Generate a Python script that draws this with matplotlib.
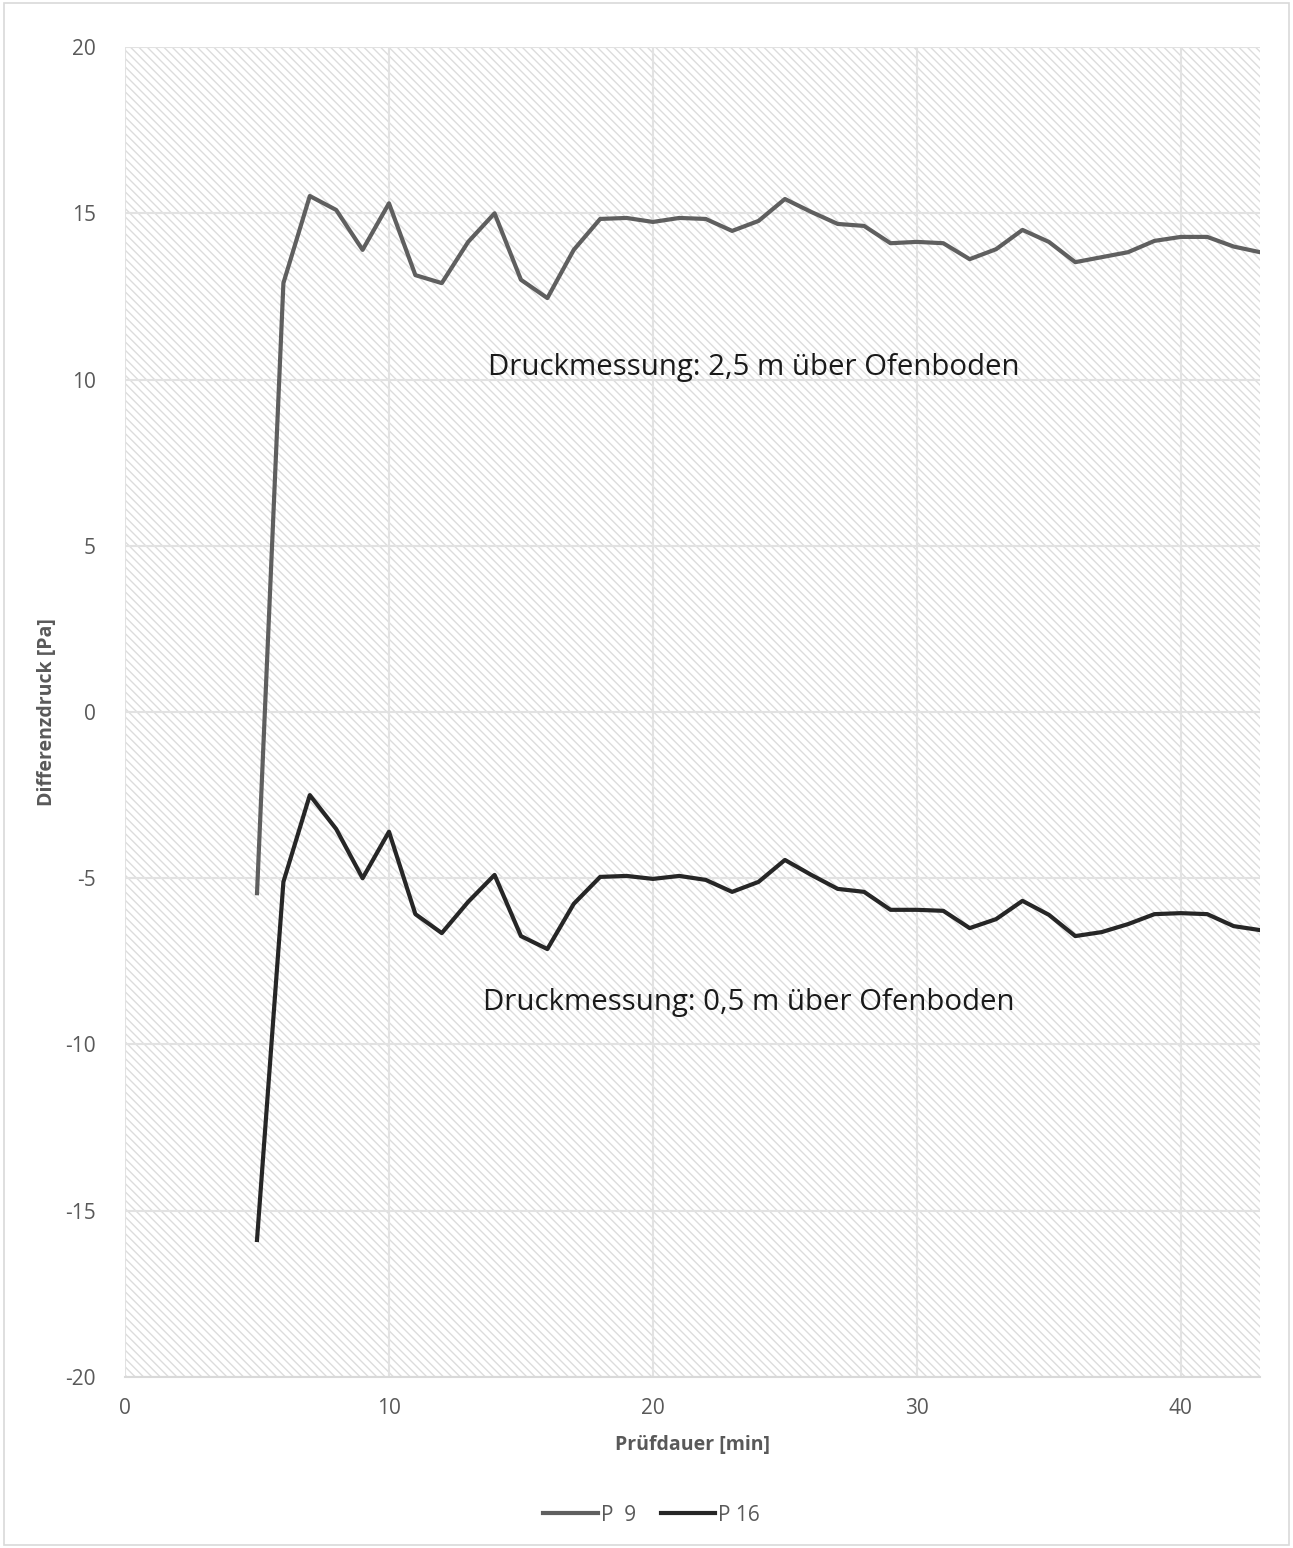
import matplotlib
matplotlib.use("Agg")
import matplotlib.pyplot as plt
from matplotlib.patches import Rectangle

plt.rcParams['font.family'] = ['Open Sans', 'DejaVu Sans']
plt.rcParams['hatch.linewidth'] = 1.0
plt.rcParams['axes.unicode_minus'] = False

minutes = list(range(5, 44))
p9 = [-5.45, 12.9, 15.52, 15.1, 13.9, 15.3, 13.14, 12.9, 14.14, 15.0,
      13.0, 12.45, 13.9, 14.83, 14.86, 14.74, 14.86, 14.83, 14.47, 14.77,
      15.43, 15.04, 14.68, 14.62, 14.1, 14.14, 14.1, 13.62, 13.92, 14.5,
      14.14, 13.53, 13.68, 13.83, 14.17, 14.29, 14.29, 14.0, 13.83]
p16 = [-15.88, -5.11, -2.5, -3.52, -5.0, -3.6, -6.08, -6.65, -5.71, -4.9,
       -6.74, -7.13, -5.77, -4.96, -4.93, -5.02, -4.93, -5.05, -5.41, -5.11,
       -4.45, -4.9, -5.32, -5.41, -5.95, -5.95, -5.98, -6.5, -6.23, -5.68,
       -6.1, -6.74, -6.62, -6.38, -6.08, -6.05, -6.08, -6.44, -6.56]
series_names = ["P  9", "P 16"]
x_ticks = [0, 10, 20, 30, 40]
y_ticks = [-20, -15, -10, -5, 0, 5, 10, 15, 20]
annot_top = "Druckmessung: 2,5 m über Ofenboden"
annot_bot = "Druckmessung: 0,5 m über Ofenboden"

fig = plt.figure(figsize=(12.93, 15.48), dpi=100)
fig.patches.append(Rectangle((0.003, 0.002), 0.994, 0.996, transform=fig.transFigure,
                             fill=False, edgecolor='#d9d9d9', linewidth=1.2))
ax = fig.add_axes([0.0967, 0.1105, 0.9745 - 0.0967, 0.9696 - 0.1105])

ax.set_xlim(0, 43)
ax.set_ylim(-20, 20)

# hatched background
ax.add_patch(Rectangle((0, 0), 1, 1, transform=ax.transAxes, facecolor='white',
                       edgecolor='#dcdcdc', hatch='\\\\\\\\', linewidth=0, zorder=0))

ax.set_xticks(x_ticks)
ax.set_yticks(y_ticks)
ax.grid(True, color='#e2e2e2', linewidth=1.5, zorder=1)
ax.set_axisbelow(True)
for s in ['top', 'right', 'left']:
    ax.spines[s].set_visible(False)
ax.spines['bottom'].set_color('#d9d9d9')
ax.spines['bottom'].set_linewidth(1.5)
ax.tick_params(length=0, labelsize=15, colors='#595959')
ax.tick_params(axis='y', pad=21)
ax.tick_params(axis='x', pad=15)

ax.plot(minutes, p9, color='#5f5f5f', linewidth=3.0, label=series_names[0], zorder=3)
ax.plot(minutes, p16, color='#262626', linewidth=3.0, label=series_names[1], zorder=4)

ax.text(13.75, 10.35, annot_top, fontsize=21.2, color='#1a1a1a', va='center', ha='left')
ax.text(13.56, -8.75, annot_bot, fontsize=21.2, color='#1a1a1a', va='center', ha='left')

ax.set_xlabel("Prüfdauer [min]", fontsize=14, fontweight='bold', color='#595959', labelpad=12)
ax.set_ylabel("Differenzdruck [Pa]", fontsize=14, fontweight='bold', color='#595959')
ax.yaxis.set_label_coords(-0.06, 0.5)

leg = ax.legend(loc='center', bbox_to_anchor=(0.464, -0.104), ncol=2, frameon=False,
                fontsize=15, handlelength=2.6, handletextpad=0.15, columnspacing=1.2)
for t in leg.get_texts():
    t.set_color('#595959')

fig.savefig("out.png", dpi=100)
